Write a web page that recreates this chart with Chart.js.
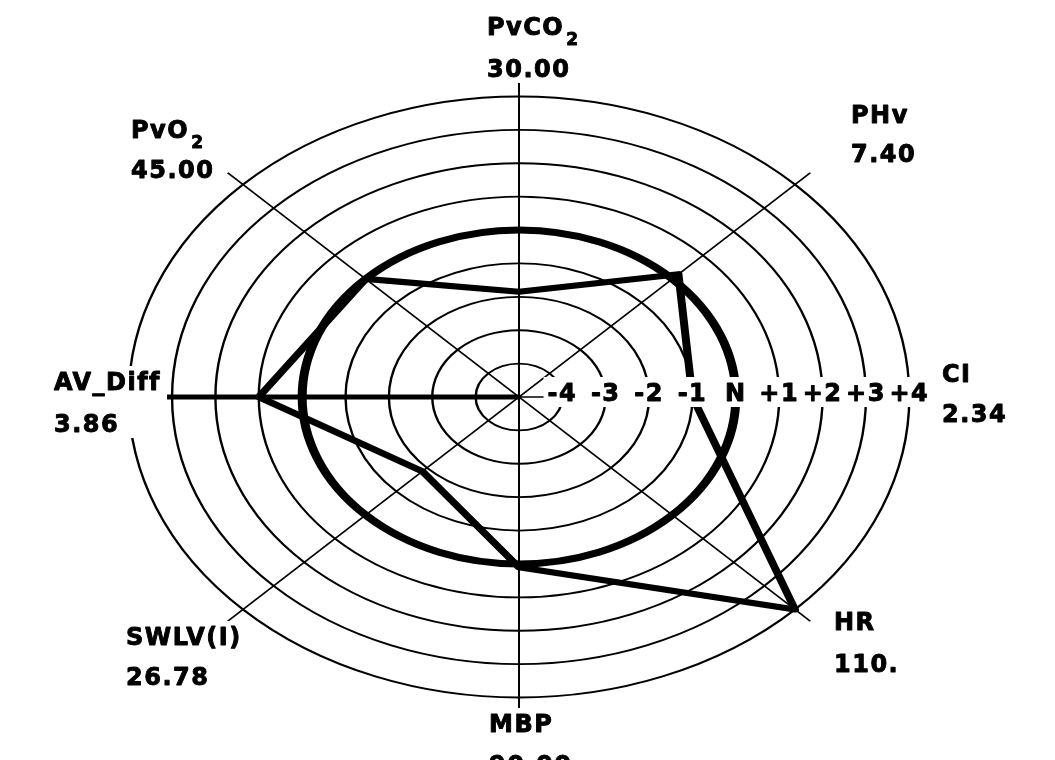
<!DOCTYPE html>
<html>
<head>
<meta charset="utf-8">
<script src="https://cdn.jsdelivr.net/npm/chart.js@4/dist/chart.umd.min.js"></script>
<style>
  html, body { margin: 0; padding: 0; background: #fff; overflow: hidden; }
  #chartBox { position: relative; width: 1055px; height: 760px; overflow: hidden; }
  #myChart { position: absolute; left: 0; top: -15px; }
</style>
</head>
<body>
<div id="chartBox">
  <canvas id="myChart" width="1038" height="825"></canvas>
</div>
<script>
// Axis names, clockwise from the top, and the value printed under each name
const axisNames = ['PvCO2', 'PHv', 'CI', 'HR', 'MBP', 'SWLV(I)', 'AV_Diff', 'PvO2'];
const axisValues = ['30.00', '7.40', '2.34', '110.', '90.00', '26.78', '3.86', '45.00'];

const deviation = [-1.85, 0.2, -1.0, 4.0, 0.1, -1.85, 1.0, 0.0];

// Ring labels written along the CI axis
const tickValues = [-4, -3, -2, -1, 0, 1, 2, 3, 4];
const tickLabels = ['-4', '-3', '-2', '-1', 'N', '+1', '+2', '+3', '+4'];

// The picture is an ellipse, so the round radar is squeezed in y
const squeeze = 0.77;

// name x, name baseline, value baseline; relative to the centre of the rings
const labelPos = [
  [-32, -362, -320],
  [332, -274, -235],
  [423, -15, 25],
  [315, 233, 275],
  [-30, 335, 376],
  [-393, 248, 288],
  [-465, -7, 35],
  [-388, -259, -219]
];

const nameFont = 'bold 24px "DejaVu Sans"';
const subFont = 'bold 17px "DejaVu Sans"';

// filled and lightly stroked, the scan has heavy letters
function heavyText(ctx, t, x, y) {
  ctx.fillText(t, x, y);
  ctx.strokeText(t, x, y);
}

function drawName(ctx, name, x, y) {
  ctx.font = nameFont;
  if (name.endsWith('O2')) {
    let base = name.slice(0, -1);
    heavyText(ctx, base, x, y);
    let w = ctx.measureText(base).width;
    ctx.font = subFont;
    heavyText(ctx, '2', x + w + 2, y + 10);
    return w + 14;
  }
  heavyText(ctx, name, x, y);
  return ctx.measureText(name).width;
}

const ellipsePlugin = {
  id: 'ellipse',
  beforeDraw(chart) {
    const s = chart.scales.r;
    const ctx = chart.ctx;
    ctx.save();
    ctx.translate(0, s.yCenter);
    ctx.scale(1, squeeze);
    ctx.translate(0, -s.yCenter);
  },
  afterDraw(chart) {
    const s = chart.scales.r;
    const ctx = chart.ctx;
    ctx.restore();

    ctx.save();
    ctx.fillStyle = '#000';
    ctx.strokeStyle = '#000';
    ctx.lineWidth = 0.9;
    ctx.lineJoin = 'round';
    ctx.textBaseline = 'alphabetic';
    ctx.letterSpacing = '1.5px';

    // axis names and values, on white so the line ends are hidden
    axisNames.forEach((name, i) => {
      let x = s.xCenter + labelPos[i][0];
      let yName = s.yCenter + labelPos[i][1];
      let yVal = s.yCenter + labelPos[i][2];
      ctx.font = nameFont;
      let w = Math.max(ctx.measureText(name).width, ctx.measureText(axisValues[i]).width);
      ctx.fillStyle = '#fff';
      ctx.fillRect(x - 6, yName - 24, w + 12, yVal - yName + 30);
      ctx.fillStyle = '#000';
      drawName(ctx, name, x, yName);
      ctx.font = nameFont;
      heavyText(ctx, axisValues[i], x, yVal);
    });

    // ring labels along the CI axis
    ctx.font = nameFont;
    ctx.textAlign = 'center';
    let y = s.yCenter + 4;
    let xs = tickValues.map(v => s.xCenter + s.getDistanceFromCenterForValue(v));
    let first = ctx.measureText(tickLabels[0]).width;
    let last = ctx.measureText(tickLabels[tickLabels.length - 1]).width;
    ctx.fillStyle = '#fff';
    ctx.fillRect(xs[0] - first / 2 - 4, y - 24, xs[xs.length - 1] - xs[0] + first / 2 + last / 2 + 8, 30);
    ctx.fillStyle = '#000';
    tickLabels.forEach((t, i) => {
      heavyText(ctx, t, xs[i], y);
    });
    ctx.restore();
  }
};

const ctx = document.getElementById('myChart');
const myChart = new Chart(ctx, {
  type: 'radar',
  data: {
    labels: axisNames,
    datasets: [
      {
        label: 'Patient',
        data: deviation,
        borderColor: '#000',
        borderWidth: 8,
        borderJoinStyle: 'round',
        pointRadius: 0,
        fill: false
      }
    ]
  },
  options: {
    responsive: false,
    animation: false,
    events: [],
    plugins: {
      legend: { display: false },
      tooltip: { enabled: false }
    },
    scales: {
      r: {
        min: -5,
        max: 4.5,
        ticks: { display: false, stepSize: 1 },
        pointLabels: { display: false },
        grid: {
          circular: true,
          color: c => (Number.isInteger(c.tick.value) && c.tick.value > -5) ? '#000' : 'rgba(0,0,0,0)',
          lineWidth: c => c.tick.value === 0 ? 9 : 2.4
        },
        angleLines: {
          color: '#000',
          lineWidth: c => c.index === 6 ? 6.5 : 2
        }
      }
    }
  },
  plugins: [ellipsePlugin]
});
</script>
</body>
</html>
